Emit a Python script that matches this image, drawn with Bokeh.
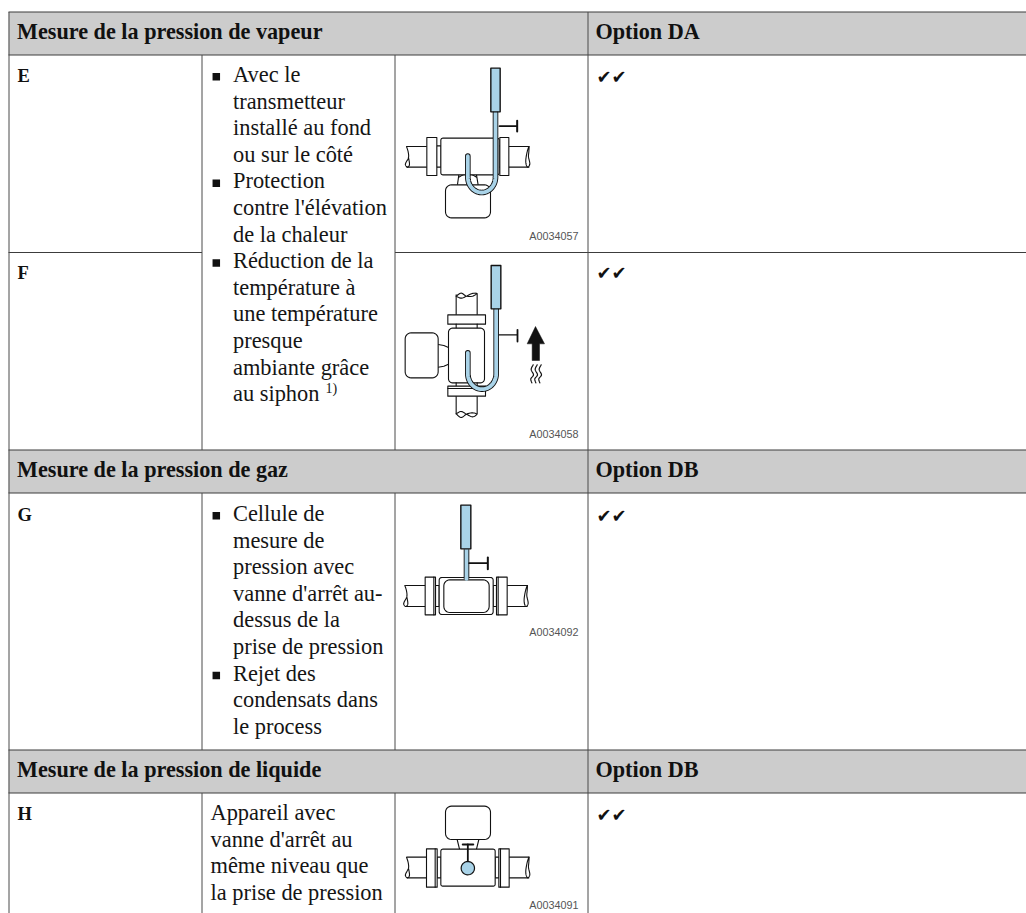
import numpy as np
from bokeh.plotting import figure
from bokeh.models import Range1d
from bokeh.core.properties import value
from bokeh.embed import file_html
from bokeh.resources import INLINE

# ---- table content -------------------------------------------------
section_titles = ["Mesure de la pression de vapeur", "Mesure de la pression de gaz", "Mesure de la pression de liquide"]
section_options = ["Option DA", "Option DB", "Option DB"]
section_tops = [11.5, 449.5, 749.5]
row_labels = ["E", "F", "G", "H"]
row_label_base = [83, 280, 522, 821]
check_centre = [76, 272, 515, 814]
figure_codes = ["A0034057", "A0034058", "A0034092", "A0034091"]
code_base = [240, 438, 636, 909]
vapour_lines = [("b", "Avec le"), ("", "transmetteur"), ("", "installé au fond"), ("", "ou sur le côté"),
                ("b", "Protection"), ("", "contre l'élévation"), ("", "de la chaleur"),
                ("b", "Réduction de la"), ("", "température à"), ("", "une température"),
                ("", "presque"), ("", "ambiante grâce"), ("", "au siphon")]
gas_lines = [("b", "Cellule de"), ("", "mesure de"), ("", "pression avec"), ("", "vanne d'arrêt au-"),
             ("", "dessus de la"), ("", "prise de pression"), ("b", "Rejet des"),
             ("", "condensats dans"), ("", "le process")]
liquid_lines = ["Appareil avec", "vanne d'arrêt au", "même niveau que", "la prise de pression"]

SERIF = value("Liberation Serif")
INK = "#151515"
BLUE = "#a9d3e8"
RULE = "#3c3c3c"

p = figure(width=1026, height=913, output_backend="svg", toolbar_location=None,
           x_range=Range1d(0, 1026), y_range=Range1d(913, 0),
           min_border=0, outline_line_color=None, background_fill_color="white")
p.axis.visible = False
p.grid.visible = False

# ---- table frame ----------------------------------------------------
p.quad(left=[8] * 3, right=[1026] * 3, top=section_tops, bottom=[t + 43 for t in section_tops],
       fill_color="#cccccc", line_color=None)
hx, hy = [], []
for t in section_tops:
    hx += [[8, 1026], [8, 1026]]
    hy += [[t, t], [t + 43, t + 43]]
hx += [[8, 201.5], [394.5, 1026]]
hy += [[252, 252], [252, 252]]
p.multi_line(hx, hy, line_color=RULE, line_width=1.2)
vx, vy = [[8.5, 8.5], [587.5, 587.5]], [[11.5, 913], [11.5, 913]]
for x in (201.5, 394.5):
    for a, b in ((54.5, 449.5), (492.5, 749.5), (792.5, 913)):
        vx.append([x, x])
        vy.append([a, b])
p.multi_line(vx, vy, line_color="#4a4a4a", line_width=1)

# ---- table text ------------------------------------------------------
def txt(x, y, s, size, color=INK, style="normal", font=SERIF, align="left"):
    drop = 0.16 * size
    p.text(x=x, y=[v + drop for v in y], text=s, text_font=font, text_font_size=f"{size}px", text_color=color,
           text_font_style=style, text_align=align, text_baseline="bottom")

txt([16.5] * 3, [t + 28 for t in section_tops], section_titles, 22.2, "#111111", "bold")
txt([595] * 3, [t + 28 for t in section_tops], section_options, 22.2, "#111111", "bold")
txt([17] * 4, row_label_base, row_labels, 18.5, "#111111", "bold")
p.text(x=[596] * 4, y=check_centre, text=["✔✔"] * 4, text_font=value("DejaVu Sans"), text_font_size="18px",
       text_color="#111111", text_baseline="middle")
txt([578] * 4, code_base, figure_codes, 10.8, "#555555", font=value("Liberation Sans"), align="right")

BODY = 22.4
LEAD = 26.6
for lines, base in ((vapour_lines, 83), (gas_lines, 522)):
    ys = [base + i * LEAD for i in range(len(lines))]
    txt([232.5] * len(lines), ys, [l[1] for l in lines], BODY)
    by = [y - 6.7 for y, l in zip(ys, lines) if l[0] == "b"]
    p.scatter(x=[215.8] * len(by), y=by, marker="square", size=7.5, fill_color="#111111", line_color=None)
txt([210] * 4, [821 + i * LEAD for i in range(4)], liquid_lines, BODY)
txt([325], [393], ["1)"], 14)

# ---- drawing helpers: shapes given in 1/3 px relative to a crop origin ---
def smooth(pts, n=8):
    pts = np.array(pts, float)
    P = np.vstack([pts[0], pts, pts[-1]])
    out = []
    for i in range(1, len(P) - 2):
        for t in np.linspace(0, 1, n, endpoint=False):
            out.append(0.5 * ((2 * P[i]) + (-P[i - 1] + P[i + 1]) * t
                              + (2 * P[i - 1] - 5 * P[i] + 4 * P[i + 1] - P[i + 2]) * t ** 2
                              + (-P[i - 1] + 3 * P[i] - 3 * P[i + 1] + P[i + 2]) * t ** 3))
    out.append(pts[-1])
    return np.array(out)

def rrect(x0, y0, x1, y1, r):
    th = np.linspace(0, np.pi / 2, 7)
    c = np.cos(th) * r
    s = np.sin(th) * r
    xs = np.r_[x1 - r + c, x0 + r - s, x0 + r - c, x1 - r + s]
    ys = np.r_[y0 + r - s, y0 + r - c, y1 - r + s, y1 - r + c]
    return np.c_[xs, ys]

class Sketch:
    def __init__(self, ox, oy):
        self.ox, self.oy = ox, oy

    def X(self, a):
        return self.ox + np.asarray(a, float) / 3

    def Y(self, a):
        return self.oy + np.asarray(a, float) / 3

    def line(self, pts, w=1.1, color="#111111", cap="round"):
        pts = np.asarray(pts, float)
        p.line(self.X(pts[:, 0]), self.Y(pts[:, 1]), line_color=color, line_width=w,
               line_cap=cap, line_join="round")

    def shape(self, pts, fill="white", w=1.1):
        pts = np.asarray(pts, float)
        p.patch(self.X(pts[:, 0]), self.Y(pts[:, 1]), fill_color=fill, line_color="#111111",
                line_width=w, line_join="round")

    def box(self, x0, y0, x1, y1, r=0, fill="white", w=1.1):
        if r:
            self.shape(rrect(x0, y0, x1, y1, r), fill, w)
        else:
            self.shape([(x0, y0), (x1, y0), (x1, y1), (x0, y1)], fill, w)

    def curve(self, pts, w=1.1):
        self.line(smooth(pts), w)

    def tube(self, pts):
        pts = np.asarray(pts, float)
        self.line(pts, 5.6, "#111111", "round")
        self.line(pts, 3.8, BLUE, "round")

def hooked(xr, xl, ytop, yarc, ybot, yend):
    th = np.linspace(0, np.pi, 40)
    cx, rx = (xr + xl) / 2, (xr - xl) / 2
    ax = cx + rx * np.cos(th)
    ay = yarc + (ybot - yarc) * np.sin(th)
    return np.r_[[(xr, ytop)], np.c_[ax, ay], [(xl, yend)]]

def left_break(x, y0, y1):
    m = (y0 + y1) / 2
    return [(x + 3, y0), (x + 8, y0 + 16), (x + 9, m + 2), (x + 1, m + 18), (x, y1 - 6), (x + 6, y1),
            (x + 12, y1 - 8), (x + 9, m + 2)]

def right_break(x, y0, y1):
    m = (y0 + y1) / 2
    return [(x - 1, y0), (x - 6, y0 + 16), (x - 10, m + 8), (x - 9, y1 - 8), (x - 4, y1), (x + 2, y1 - 10),
            (x - 2, m), (x - 1, y0 + 16), (x, y0)]

# ---- diagram E --------------------------------------------------------
s = Sketch(390, 40)
s.line([(205, 403), (201, 432)]); s.line([(258, 403), (263, 434)])
s.curve([(205, 410), (232, 398), (258, 410)])
s.box(165, 433, 300, 532, 18)
s.line([(50, 318), (108, 318)]); s.line([(50, 380), (108, 380)])
s.curve(left_break(45, 318, 380))
s.line([(355, 318), (415, 318)]); s.line([(355, 380), (415, 380)])
s.curve(right_break(416, 318, 380))
s.box(138, 316, 152, 380)
s.box(325, 316, 332, 380)
s.box(109, 291, 139, 405)
s.box(151, 293, 326, 403, 6)
s.box(328, 291, 355, 405)
s.tube(hooked(315, 232, 216, 410, 456, 347))
s.box(301, 83, 329, 214, 0, BLUE, 1.4)
s.line([(327, 257), (378, 257)], 1.8); s.line([(380, 241), (380, 273)], 2)

# ---- diagram F --------------------------------------------------------
s = Sketch(390, 225)
s.line([(197, 208), (197, 268)]); s.line([(260, 205), (260, 268)])
s.curve([(197, 212), (212, 203), (228, 212), (246, 212), (259, 204), (245, 204), (228, 212), (212, 218), (197, 212)])
s.line([(197, 512), (197, 565)]); s.line([(260, 512), (260, 565)])
s.curve([(197, 565), (212, 558), (228, 566), (246, 574), (259, 566), (245, 562), (228, 566), (212, 576), (197, 565)])
s.box(172, 268, 285, 296)
s.line([(197, 296), (197, 308)]); s.line([(260, 296), (260, 308)])
s.box(174, 308, 282, 472, 12)
s.line([(197, 472), (197, 482)]); s.line([(260, 472), (260, 482)])
s.box(172, 482, 285, 512)
s.line([(172, 489), (285, 489)])
s.line([(143, 357), (160, 360), (174, 366)]); s.line([(143, 425), (160, 422), (174, 416)])
s.box(44, 322, 143, 457, 18)
s.tube(hooked(317, 232, 252, 445, 491, 382))
s.box(302, 120, 331, 250, 0, BLUE, 1.4)
s.line([(326, 328), (380, 328)], 1.2); s.line([(381, 313), (381, 348)], 1.8)
s.shape([(410, 355), (435, 303), (462, 355), (447, 355), (447, 405), (425, 405), (425, 355)], "#111111", 0.5)
for dx in (0, 12, 24):
    s.curve([(428 + dx, 418), (422 + dx, 432), (429 + dx, 448), (421 + dx, 460), (424 + dx, 472)], 1.2)

# ---- diagram G --------------------------------------------------------
s = Sketch(390, 470)
s.line([(45, 345), (104, 345)]); s.line([(45, 408), (104, 408)])
s.curve(left_break(40, 345, 408))
s.line([(350, 345), (410, 345)]); s.line([(350, 408), (410, 408)])
s.curve(right_break(411, 345, 408))
s.box(135, 345, 146, 408)
s.box(308, 345, 318, 408)
s.box(104, 320, 135, 433)
s.line([(130, 320), (130, 433)])
s.box(318, 320, 350, 433)
s.line([(323, 320), (323, 433)])
s.box(146, 321, 308, 432, 8)
s.box(160, 328, 296, 426, 18)
s.line([(228, 236), (228, 325)], 5.6, "#111111", "butt")
s.line([(228, 236), (228, 325)], 3.8, BLUE, "round")
s.box(211, 104, 241, 235, 0, BLUE, 1.4)
s.line([(236, 278), (290, 278)], 1.8); s.line([(292, 261), (292, 296)], 2)

# ---- diagram H --------------------------------------------------------
s = Sketch(390, 790)
s.box(165, 47, 300, 147, 18)
s.line([(200, 147), (207, 176)]); s.line([(265, 147), (258, 176)])
s.line([(50, 200), (108, 200)]); s.line([(50, 262), (108, 262)])
s.curve(left_break(45, 200, 262))
s.line([(356, 200), (415, 200)]); s.line([(356, 262), (415, 262)])
s.curve(right_break(416, 200, 262))
s.box(140, 200, 152, 262)
s.box(314, 200, 326, 262)
s.box(108, 175, 140, 290)
s.line([(134, 175), (134, 290)])
s.box(325, 175, 356, 290)
s.line([(330, 175), (330, 290)])
s.box(151, 176, 314, 287, 6)
s.line([(217, 162), (248, 162)], 2.2); s.line([(232, 162), (232, 215)], 1.8)
th = np.linspace(0, 2 * np.pi, 36)
s.shape(np.c_[232 + 20 * np.cos(th), 233 + 20 * np.sin(th)], BLUE, 1.2)

open("out.html", "w").write(file_html(p, INLINE))
